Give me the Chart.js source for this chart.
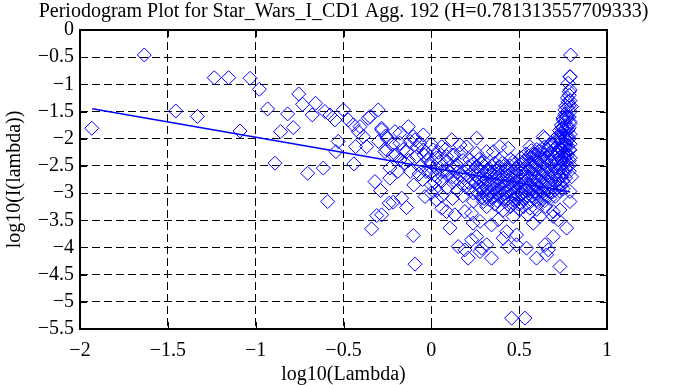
<!DOCTYPE html>
<html>
<head>
<meta charset="utf-8">
<script src="https://cdn.jsdelivr.net/npm/chart.js@4.4.0/dist/chart.umd.min.js"></script>
<style>
  html, body { margin: 0; padding: 0; background: #fff; }
  #wrap { width: 687px; height: 385px; }
</style>
</head>
<body>
<div id="wrap"><canvas id="pgram"></canvas></div>
<script>
// titles and ticks
const titleText = "Periodogram Plot for Star_Wars_I_CD1 Agg. 192 (H=0.781313557709333)";
const xTitle = "log10(Lambda)";
const yTitle = "log10(I(lambda))";
const xTicks = [-2, -1.5, -1, -0.5, 0, 0.5, 1];
const yTicks = [0, -0.5, -1, -1.5, -2, -2.5, -3, -3.5, -4, -4.5, -5, -5.5];

// periodogram points [log10(lambda), log10(I(lambda))]
const sparsePoints = [
  [-1.933,-1.807],[-1.634,-0.46],[-1.455,-1.49],[-1.332,-1.59],[-1.236,-0.877],[-1.154,-0.877],
  [-1.089,-1.857],[-1.032,-0.888],[-0.979,-1.09],[-0.932,-1.452],[-0.890,-2.45],[-0.858,-1.869],
  [-0.818,-1.544],[-0.786,-1.795],[-0.755,-1.176],[-0.733,-1.366],[-0.704,-2.635],[-0.678,-1.5625],
  [-0.659,-1.348],[-0.615,-2.54],[-0.606,-1.50],[-0.577,-1.5625],[-0.549,-1.654],[-0.501,-1.47],
  [-0.473,-1.654],[-0.444,-1.746],[-0.416,-1.869],[-0.387,-1.961],[-0.359,-1.623],[-0.302,-1.47],
  [-0.368,-2.145],[-0.530,-2.05],[-0.543,-2.237],[-0.431,-2.145],[-0.283,-1.838],[-0.264,-2.237],
  [-0.441,-2.463],[-0.590,-3.156],[-0.321,-2.788],[-0.289,-2.954],[-0.311,-3.413],[-0.340,-3.658],
  [-0.240,-3.186],[-0.406,-1.777],[-0.349,-1.593],[-0.283,-1.807],[-0.179,-1.899],[-0.217,-2.298],
  [-0.103,-1.961],[-0.065,-2.083],[-0.027,-2.267],[-0.131,-1.777],[-0.207,-1.869],[-0.046,-1.93],
  [-0.093,-2.02],[-0.254,-2.206],[-0.179,-2.083],[-0.141,-2.237],[-0.084,-2.33],[-0.046,-2.206],
  [-0.236,-2.54],[-0.179,-2.39],[-0.008,-2.51],[-0.25,-2.0],[-0.2,-2.3],[-0.15,-2.45],[-0.12,-2.6],
  [-0.06,-2.5],[-0.02,-2.4],[-0.1,-2.85],[-0.05,-2.75],
  [-0.3,-2.05],[-0.26,-1.95],[-0.22,-2.1],[-0.16,-2.2],[-0.12,-2.05],[-0.08,-2.15],[-0.04,-2.3],
  [0.0,-2.1],[0.04,-2.25],[0.08,-2.2],[0.13,-2.3],[0.17,-2.25],[0.2,-2.15],[-0.19,-2.6],
  [-0.13,-2.4],[-0.07,-2.65],[-0.03,-2.6],[0.02,-2.8]
];

const lowPoints = [
  [-0.103,-3.78],[-0.093,-4.307],[-0.236,-2.726],[-0.217,-3.167],[-0.169,-3.094],[-0.141,-3.266],
  [-0.283,-3.40],[-0.036,-3.064],[0.030,-3.125],[0.059,-3.278],[0.087,-3.34],[0.134,-3.40],
  [0.106,-3.645],[0.229,-3.37],[0.238,-3.553],[0.153,-3.983],[0.191,-4.044],[0.229,-3.86],
  [0.258,-3.80],[0.210,-4.197],[0.277,-4.075],[0.315,-3.95],[0.343,-4.197],[0.286,-4.013],
  [0.457,-5.30],[0.533,-5.30],[0.599,-4.197],[0.656,-4.136],[0.732,-4.35],[0.647,-3.95],
  [0.666,-4.044],[0.438,-3.983],[0.485,-3.95],[0.409,-3.83],[0.542,-4.013],[0.694,-3.80],
  [0.770,-3.645],[0.722,-3.49],[0.789,-3.156],[0.343,-3.585],[0.277,-3.52],[0.191,-3.34],
  [0.381,-3.49],[0.429,-3.71],[0.485,-3.77],[0.580,-3.553],[0.618,-3.432],[0.561,-3.278],
  [0.466,-3.186],[0.409,-3.31],[0.315,-3.248],[0.732,-3.31],[0.694,-3.43],[0.466,-3.432],
  [0.381,-3.248],[0.296,-3.156],[0.694,-3.34],[0.5,-3.3],[0.55,-3.4],[0.6,-3.3],[0.65,-3.25]
];

const densePoints = [
  [0.116,-2.02],[0.163,-2.114],[0.258,-1.99],[0.315,-2.237],[0.059,-2.145],[0.011,-2.206],
  [0.087,-2.33],[0.220,-2.39],[0.049,-2.42],[0.144,-2.48],[0.390,-2.145],[0.438,-2.175],
  [0.561,-2.145],[0.647,-1.99],[0.258,-2.267],[0.353,-2.237],[0.580,-2.298],
  [0.00,-2.45],[0.00,-2.62],[0.00,-2.85],[0.00,-3.0],
  [0.03,-2.35],[0.03,-2.7],[0.03,-2.95],[0.03,-2.55],
  [0.06,-2.5],[0.06,-2.78],[0.06,-3.05],[0.06,-2.6],
  [0.09,-2.42],[0.09,-2.66],[0.09,-2.9],[0.09,-2.58],
  [0.12,-2.3],[0.12,-2.55],[0.12,-2.8],[0.12,-3.1],[0.12,-2.7],
  [0.15,-2.5],[0.15,-2.62],[0.15,-2.95],[0.15,-2.75],
  [0.18,-2.4],[0.18,-2.6],[0.18,-2.85],[0.18,-3.05],[0.18,-2.7],
  [0.21,-2.52],[0.21,-2.68],[0.21,-2.92],[0.21,-2.8],
  [0.24,-2.45],[0.24,-2.6],[0.24,-2.78],[0.24,-3.0],[0.24,-3.15],
  [0.27,-2.38],[0.27,-2.55],[0.27,-2.72],[0.27,-2.88],[0.27,-3.02],
  [0.30,-2.5],[0.30,-2.65],[0.30,-2.8],[0.30,-2.95],[0.30,-3.1],[0.30,-2.42],
  [0.33,-2.55],[0.33,-2.7],[0.33,-2.85],[0.33,-3.0],[0.33,-3.12],[0.33,-2.6],
  [0.36,-2.45],[0.36,-2.62],[0.36,-2.78],[0.36,-2.92],[0.36,-3.05],[0.36,-3.2],
  [0.39,-2.52],[0.39,-2.68],[0.39,-2.82],[0.39,-2.97],[0.39,-3.08],[0.39,-2.4],
  [0.42,-2.58],[0.42,-2.72],[0.42,-2.88],[0.42,-3.0],[0.42,-3.15],[0.42,-2.48],
  [0.45,-2.5],[0.45,-2.65],[0.45,-2.8],[0.45,-2.94],[0.45,-3.05],[0.45,-3.25],[0.45,-2.38],
  [0.48,-2.55],[0.48,-2.7],[0.48,-2.85],[0.48,-2.98],[0.48,-3.1],[0.48,-2.45],
  [0.51,-2.48],[0.51,-2.62],[0.51,-2.76],[0.51,-2.9],[0.51,-3.02],[0.51,-3.18],[0.51,-2.35],
  [0.54,-2.4],[0.54,-2.55],[0.54,-2.7],[0.54,-2.84],[0.54,-2.96],[0.54,-3.08],[0.54,-2.28],
  [0.57,-2.35],[0.57,-2.5],[0.57,-2.64],[0.57,-2.78],[0.57,-2.92],[0.57,-3.05],[0.57,-2.22],
  [0.60,-2.3],[0.60,-2.45],[0.60,-2.58],[0.60,-2.72],[0.60,-2.86],[0.60,-3.0],[0.60,-3.12],[0.60,-2.2],
  [0.63,-2.25],[0.63,-2.4],[0.63,-2.55],[0.63,-2.68],[0.63,-2.82],[0.63,-2.95],[0.63,-3.1],
  [0.66,-2.2],[0.66,-2.35],[0.66,-2.5],[0.66,-2.64],[0.66,-2.78],[0.66,-2.9],[0.66,-3.05],
  [0.69,-2.1],[0.69,-2.28],[0.69,-2.42],[0.69,-2.56],[0.69,-2.7],[0.69,-2.84],[0.69,-2.98],
  [0.72,-1.95],[0.72,-2.12],[0.72,-2.3],[0.72,-2.45],[0.72,-2.6],[0.72,-2.75],[0.72,-2.9],
  [0.74,-1.75],[0.74,-1.9],[0.74,-2.05],[0.74,-2.2],[0.74,-2.38],[0.74,-2.55],[0.74,-2.7],[0.74,-2.85],
  [0.76,-1.55],[0.76,-1.7],[0.76,-1.85],[0.76,-2.0],[0.76,-2.15],[0.76,-2.3],[0.76,-2.45],[0.76,-2.62],
  [0.775,-1.25],[0.775,-1.42],[0.775,-1.6],[0.775,-1.78],[0.775,-1.95],[0.775,-2.12],[0.775,-2.3],[0.775,-2.5],
  [0.79,-0.86],[0.79,-1.1],[0.79,-1.3],[0.79,-1.5],[0.79,-1.72],[0.79,-1.92],[0.79,-2.1],[0.79,-2.35],
  [0.255,-2.52],[0.255,-2.68],[0.255,-2.82],[0.255,-2.95],
  [0.285,-2.45],[0.285,-2.6],[0.285,-2.78],[0.285,-2.92],[0.285,-3.08],
  [0.315,-2.58],[0.315,-2.74],[0.315,-2.9],[0.315,-3.05],
  [0.345,-2.5],[0.345,-2.66],[0.345,-2.8],[0.345,-2.95],[0.345,-3.08],
  [0.375,-2.55],[0.375,-2.72],[0.375,-2.86],[0.375,-3.0],[0.375,-3.14],
  [0.405,-2.45],[0.405,-2.62],[0.405,-2.78],[0.405,-2.92],[0.405,-3.05],
  [0.435,-2.55],[0.435,-2.68],[0.435,-2.84],[0.435,-2.97],[0.435,-3.1],[0.435,-3.2],
  [0.465,-2.42],[0.465,-2.6],[0.465,-2.75],[0.465,-2.88],[0.465,-3.0],[0.465,-3.12],
  [0.495,-2.5],[0.495,-2.66],[0.495,-2.8],[0.495,-2.94],[0.495,-3.06],[0.495,-3.2],
  [0.525,-2.42],[0.525,-2.56],[0.525,-2.7],[0.525,-2.84],[0.525,-2.98],[0.525,-3.1],[0.525,-3.25],
  [0.555,-2.32],[0.555,-2.47],[0.555,-2.6],[0.555,-2.74],[0.555,-2.88],[0.555,-3.0],[0.555,-3.15],
  [0.585,-2.28],[0.585,-2.42],[0.585,-2.56],[0.585,-2.7],[0.585,-2.84],[0.585,-2.97],[0.585,-3.1],
  [0.615,-2.22],[0.615,-2.36],[0.615,-2.5],[0.615,-2.64],[0.615,-2.78],[0.615,-2.9],[0.615,-3.04],[0.615,-3.18],
  [0.645,-2.15],[0.645,-2.3],[0.645,-2.45],[0.645,-2.6],[0.645,-2.74],[0.645,-2.87],[0.645,-3.0],[0.645,-3.14],
  [0.675,-2.12],[0.675,-2.26],[0.675,-2.4],[0.675,-2.55],[0.675,-2.7],[0.675,-2.84],[0.675,-2.96],[0.675,-3.1],
  [0.705,-2.0],[0.705,-2.18],[0.705,-2.35],[0.705,-2.5],[0.705,-2.65],[0.705,-2.8],[0.705,-2.94],[0.705,-3.06],
  [0.73,-1.85],[0.73,-2.0],[0.73,-2.18],[0.73,-2.35],[0.73,-2.52],[0.73,-2.68],[0.73,-2.82],[0.73,-2.96],
  [0.75,-1.62],[0.75,-1.8],[0.75,-1.96],[0.75,-2.12],[0.75,-2.28],[0.75,-2.45],[0.75,-2.62],[0.75,-2.78],[0.75,-2.92],
  [0.765,-1.4],[0.765,-1.62],[0.765,-1.8],[0.765,-1.96],[0.765,-2.1],[0.765,-2.25],[0.765,-2.4],[0.765,-2.55],[0.765,-2.72],
  [0.785,-1.2],[0.785,-1.4],[0.785,-1.6],[0.785,-1.8],[0.785,-2.0],[0.785,-2.2],[0.785,-2.4],[0.785,-2.6]
];

const tailPoints = [
  [0.793,-0.46],[0.789,-0.858],[0.779,-0.98],[0.785,-1.134],[0.779,-1.318],[0.760,-1.47],
  [0.798,-1.41],[0.770,-1.593],[0.751,-1.654],[0.789,-1.685],[0.741,-1.807],[0.779,-1.838],
  [0.732,-1.961],[0.770,-2.02],[0.704,-2.083],[0.751,-2.145],[0.637,-1.961],[0.722,-2.237],
  [0.666,-2.206],[0.789,-2.206],[0.760,-2.36],[0.789,-2.97],[0.798,-2.70],[0.789,-2.48]
];

// least squares fit line, slope 1-2H
const fitLine = [[-1.93, -1.45], [0.79, -2.98]];

const allPoints = sparsePoints.concat(lowPoints, densePoints, tailPoints);
const serif = "'Liberation Serif', 'Times New Roman', serif";
const fmt = v => (v < 0 ? '\u2212' : '') + Math.abs(v);

// frame and inward tick marks, like the original plot
const framePlugin = {
  id: 'frame',
  afterDatasetsDraw(chart) {
    const { ctx, chartArea: a, scales } = chart;
    ctx.save();
    ctx.strokeStyle = '#000';
    ctx.lineWidth = 1;
    ctx.beginPath();
    xTicks.forEach(v => {
      const px = Math.round(scales.x.getPixelForValue(v)) + 0.5;
      ctx.moveTo(px, a.bottom); ctx.lineTo(px, a.bottom - 7);
      ctx.moveTo(px, a.top); ctx.lineTo(px, a.top + 7);
    });
    yTicks.forEach(v => {
      const py = Math.round(scales.y.getPixelForValue(v)) + 0.5;
      ctx.moveTo(a.left, py); ctx.lineTo(a.left + 7, py);
      ctx.moveTo(a.right, py); ctx.lineTo(a.right - 7, py);
    });
    ctx.stroke();
    ctx.lineWidth = 2;
    ctx.strokeRect(a.left, a.top, a.right - a.left, a.bottom - a.top);
    ctx.restore();
  }
};

const ctx = document.getElementById('pgram').getContext('2d');
new Chart(ctx, {
  type: 'scatter',
  data: {
    datasets: [
      {
        label: 'periodogram',
        data: allPoints.map(p => ({ x: p[0], y: p[1] })),
        pointStyle: 'rectRot',
        pointRadius: 7,
        pointHoverRadius: 7,
        pointBorderWidth: 1,
        pointBorderColor: '#0000ff',
        pointBackgroundColor: 'rgba(0,0,0,0)'
      },
      {
        label: 'fit',
        type: 'line',
        data: fitLine.map(p => ({ x: p[0], y: p[1] })),
        borderColor: '#0000ff',
        borderWidth: 1.5,
        pointRadius: 0,
        fill: false
      }
    ]
  },
  options: {
    responsive: true,
    maintainAspectRatio: false,
    animation: false,
    layout: { padding: 0 },
    plugins: {
      legend: { display: false },
      tooltip: { enabled: false },
      title: {
        display: true,
        text: titleText,
        color: '#000',
        font: { family: serif, size: 20, weight: 'normal' },
        padding: { top: 0, bottom: 6 }
      }
    },
    scales: {
      x: {
        type: 'linear',
        min: -2, max: 1,
        afterBuildTicks: s => { s.ticks = xTicks.map(v => ({ value: v })); },
        afterFit: s => { s.height = 56; },
        ticks: { color: '#000', font: { family: serif, size: 20 }, padding: 10, callback: fmt, maxRotation: 0 },
        grid: { color: '#000', lineWidth: 1, drawTicks: false },
        border: { display: false, dash: [8, 4] },
        title: { display: true, text: xTitle, color: '#000', font: { family: serif, size: 20, lineHeight: 1.0 }, padding: { top: 0, bottom: 0 } }
      },
      y: {
        type: 'linear',
        min: -5.5, max: 0,
        afterBuildTicks: s => { s.ticks = yTicks.map(v => ({ value: v })); },
        afterFit: s => { s.width = 80; },
        ticks: { color: '#000', font: { family: serif, size: 20 }, padding: 6, callback: fmt },
        grid: { color: '#000', lineWidth: 1, drawTicks: false },
        border: { display: false, dash: [8, 4] },
        title: { display: true, text: yTitle, color: '#000', font: { family: serif, size: 20 }, padding: { top: 3, bottom: 0 } }
      },
      // empty right margin so the title stays centred on the whole picture
      yRight: {
        type: 'linear',
        position: 'right',
        display: true,
        afterFit: s => { s.width = 80; },
        ticks: { display: false },
        grid: { display: false, drawTicks: false },
        border: { display: false }
      }
    }
  },
  plugins: [framePlugin]
});
</script>
</body>
</html>
